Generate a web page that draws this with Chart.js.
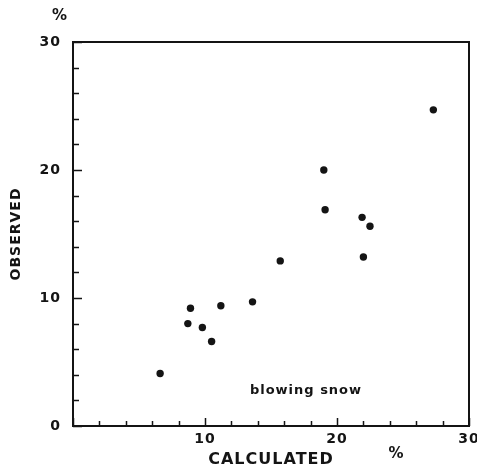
<!DOCTYPE html>
<html>
<head>
<meta charset="utf-8">
<script src="https://cdn.jsdelivr.net/npm/chart.js@4"></script>
<style>
html,body{margin:0;padding:0;background:#fff;}
#c{display:block;}
</style>
</head>
<body>
<canvas id="c" width="477" height="469"></canvas>
<script>
// Data (percent)
const calculated = [27.3, 19.0, 19.1, 21.9, 22.5, 15.7, 22.0, 13.6, 11.2, 8.9, 8.7, 9.8, 10.5, 6.6];
const observed   = [24.7, 20.0, 16.9, 16.3, 15.6, 12.9, 13.2,  9.7,  9.4, 9.2, 8.0, 7.7,  6.6, 4.1];
const xLabels = [10, 20, 30];
const yLabels = [0, 10, 20, 30];
const xTitle = 'CALCULATED';
const yTitle = 'OBSERVED';
const unitLabel = '%';
const note = 'blowing snow';
const notePos = [13.4, 2.8];

const points = calculated.map((v, i) => ({x: v, y: observed[i]}));
const INK = '#141414';
const FONT = "'DejaVu Sans', sans-serif";

const decor = {
  id: 'decor',
  beforeDraw(chart) {
    chart.ctx.letterSpacing = '1px';
  },
  afterDraw(chart) {
    const {ctx, chartArea: a, scales: {x, y}} = chart;
    ctx.save();
    ctx.strokeStyle = INK;
    ctx.lineWidth = 2;
    ctx.strokeRect(a.left, a.top, a.right - a.left, a.bottom - a.top);
    ctx.lineWidth = 1.5;
    ctx.beginPath();
    y.ticks.forEach(t => {
      const py = Math.round(y.getPixelForValue(t.value)) + 0.5;
      const len = t.value % 10 === 0 ? 9 : 6;
      ctx.moveTo(a.left, py); ctx.lineTo(a.left + len, py);
    });
    x.ticks.forEach(t => {
      const px = Math.round(x.getPixelForValue(t.value)) + 0.5;
      const len = t.value % 10 === 0 ? 8 : 5;
      ctx.moveTo(px, a.bottom); ctx.lineTo(px, a.bottom - len);
    });
    ctx.stroke();
    ctx.fillStyle = INK;
    ctx.letterSpacing = '1px';
    ctx.textAlign = 'center';
    ctx.textBaseline = 'middle';
    ctx.font = 'bold 15px ' + FONT;
    ctx.fillText(unitLabel, a.left - 13, a.top - 26);
    ctx.fillText(unitLabel, x.getPixelForValue(24.5), a.bottom + 28);
    ctx.textAlign = 'left';
    ctx.font = 'bold 13px ' + FONT;
    ctx.fillText(note, x.getPixelForValue(notePos[0]), y.getPixelForValue(notePos[1]));
    ctx.restore();
  }
};

new Chart(document.getElementById('c'), {
  type: 'scatter',
  data: {
    datasets: [{
      data: points,
      backgroundColor: INK,
      borderColor: INK,
      pointRadius: 3.7,
      pointHoverRadius: 3.7,
      borderWidth: 0
    }]
  },
  options: {
    responsive: false,
    animation: false,
    devicePixelRatio: 1,
    layout: {padding: {top: 42, right: 8, left: 0, bottom: 0}},
    plugins: {legend: {display: false}, tooltip: {enabled: false}},
    scales: {
      x: {
        type: 'linear', min: 0, max: 30,
        afterFit(s) { s.height = 43; s.paddingRight = 0; s.paddingLeft = 0; },
        grid: {display: false, drawTicks: false},
        border: {display: false},
        ticks: {
          stepSize: 2, autoSkip: false, maxRotation: 0, padding: 5,
          color: INK, font: {family: FONT, size: 14, weight: 'bold'},
          callback: v => xLabels.includes(v) ? String(v) : ''
        },
        title: {display: true, text: xTitle, color: INK,
          font: {family: FONT, size: 16, weight: 'bold'}, padding: {top: 0, bottom: 0}}
      },
      y: {
        type: 'linear', min: 0, max: 30,
        afterFit(s) { s.width = 73; s.paddingTop = 0; s.paddingBottom = 0; },
        grid: {display: false, drawTicks: false},
        border: {display: false},
        ticks: {
          stepSize: 2, autoSkip: false, padding: 12,
          color: INK, font: {family: FONT, size: 14, weight: 'bold'},
          callback: v => yLabels.includes(v) ? String(v) : ''
        },
        title: {display: true, text: yTitle, color: INK,
          font: {family: FONT, size: 14, weight: 'bold'}, padding: {top: 8, bottom: 0}}
      }
    }
  },
  plugins: [decor]
});
</script>
</body>
</html>
